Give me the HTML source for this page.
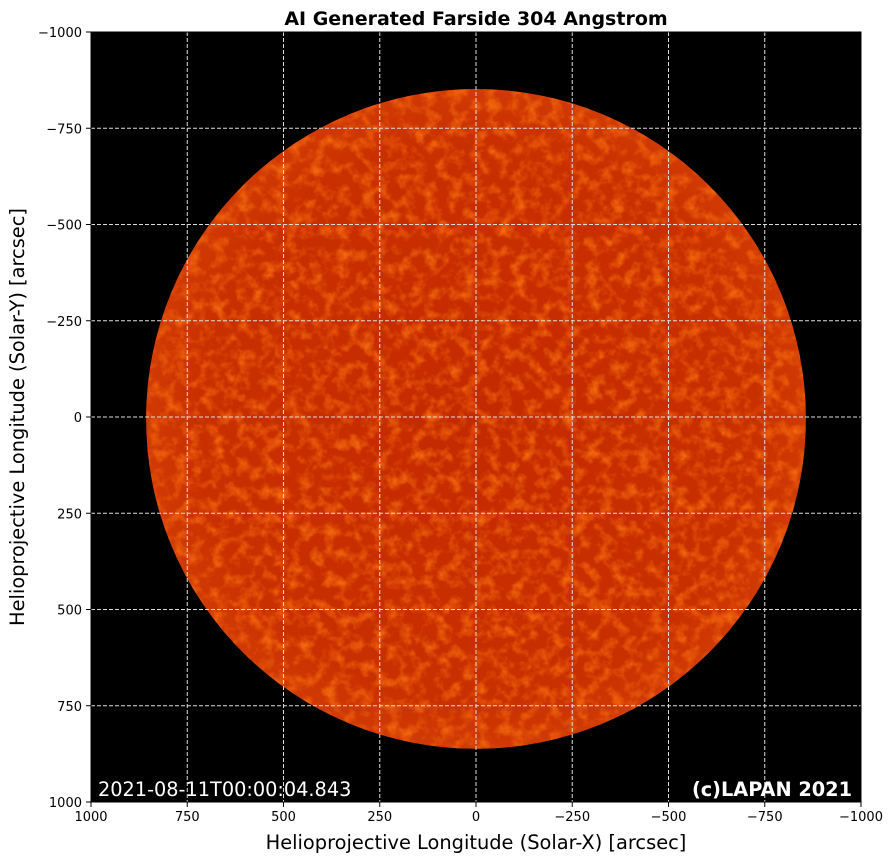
<!DOCTYPE html>
<html><head><meta charset="utf-8"><style>
body{margin:0;background:#fff;width:894px;height:861px;overflow:hidden;font-family:"DejaVu Sans",sans-serif}
</style></head><body>
<svg id="chart" width="894" height="861" xmlns="http://www.w3.org/2000/svg" font-family="DejaVu Sans, sans-serif">
<defs>
<filter id="tex" x="0" y="0" width="100%" height="100%" filterUnits="objectBoundingBox" color-interpolation-filters="sRGB">
<feTurbulence type="fractalNoise" baseFrequency="0.08" numOctaves="3" seed="7" result="n"/>
<feColorMatrix in="n" type="matrix" values="0 0 0 0 0.95  0 0 0 0 0.40  0 0 0 0 0.05  2.4 0 0 0 -1.05"/>
</filter>
<radialGradient id="sg" cx="50%" cy="50%" r="50%">
<stop offset="0" stop-color="#c42a00"/><stop offset="0.85" stop-color="#c93000"/><stop offset="1" stop-color="#d03a04"/>
</radialGradient>
<clipPath id="sunclip"><circle id="clipc" cx="0" cy="0" r="0"/></clipPath>
</defs>
<text x="476" y="25" text-anchor="middle" font-size="19" font-weight="bold">AI Generated Farside 304 Angstrom</text>
<rect x="91" y="32" width="770" height="770" fill="#000"/>
<g id="sun"></g>
<g id="grid"></g>
<g id="axes"></g>
<text x="98" y="796" font-size="19.3" fill="#fff">2021-08-11T00:00:04.843</text>
<text x="852" y="796" text-anchor="end" font-size="19.3" font-weight="bold" fill="#fff">(c)LAPAN 2021</text>
<text x="476" y="849" text-anchor="middle" font-size="19.4">Helioprojective Longitude (Solar-X) [arcsec]</text>
<text transform="translate(24,417) rotate(-90)" text-anchor="middle" font-size="19.4">Helioprojective Longitude (Solar-Y) [arcsec]</text>
</svg>
<script>
const xTicks=[1000,750,500,250,0,-250,-500,-750,-1000];
const yTicks=[-1000,-750,-500,-250,0,250,500,750,1000];
const sunCenter=[0,5];
const sunRadius=[857];
const L=91,T=32,W=770,H=770;
const sx=v=>L+(1000-v)/2000*W;
const sy=v=>T+(v+1000)/2000*H;
const NS="http://www.w3.org/2000/svg";
function mk(t,a,p){const e=document.createElementNS(NS,t);for(const k in a)e.setAttribute(k,a[k]);p.appendChild(e);return e;}
const sun=document.getElementById('sun');
const cx=sx(sunCenter[0]),cy=sy(sunCenter[1]),r=sunRadius[0]*W/2000;
const cc=document.getElementById('clipc');cc.setAttribute('cx',cx);cc.setAttribute('cy',cy);cc.setAttribute('r',r);
const g=mk('g',{'clip-path':'url(#sunclip)'},sun);
const disk=mk('rect',{x:cx-r,y:cy-r,width:2*r,height:2*r,fill:'url(#sg)'},g);


const spots=mk('rect',{x:cx-r,y:cy-r,width:2*r,height:2*r,fill:'#fff',filter:'url(#tex)'},g);


const grid=document.getElementById('grid'),axes=document.getElementById('axes');
xTicks.forEach(v=>{const x=sx(v);
 const l=mk('line',{x1:x,x2:x,y1:T,y2:T+H,stroke:'#ddd','stroke-width':1,'stroke-dasharray':'4,2'},grid);
 
 mk('line',{x1:x,x2:x,y1:T+H,y2:T+H+5,stroke:'#000'},axes);
 const t=mk('text',{x:x,y:T+H+19,'text-anchor':'middle','font-size':13},axes);t.textContent=v===0?'0':String(v).replace('-','\u2212');
 });
yTicks.forEach(v=>{const y=sy(v);
 const l=mk('line',{x1:L,x2:L+W,y1:y,y2:y,stroke:'#ddd','stroke-width':1,'stroke-dasharray':'4,2'},grid);
 
 mk('line',{x1:L-5,x2:L,y1:y,y2:y,stroke:'#000'},axes);
 const t=mk('text',{x:L-9,y:y+5,'text-anchor':'end','font-size':13},axes);t.textContent=v===0?'0':String(v).replace('-','\u2212');
 });
mk('rect',{x:L,y:T,width:W,height:H,fill:'none',stroke:'#000'},axes);
</script>
</body></html>
